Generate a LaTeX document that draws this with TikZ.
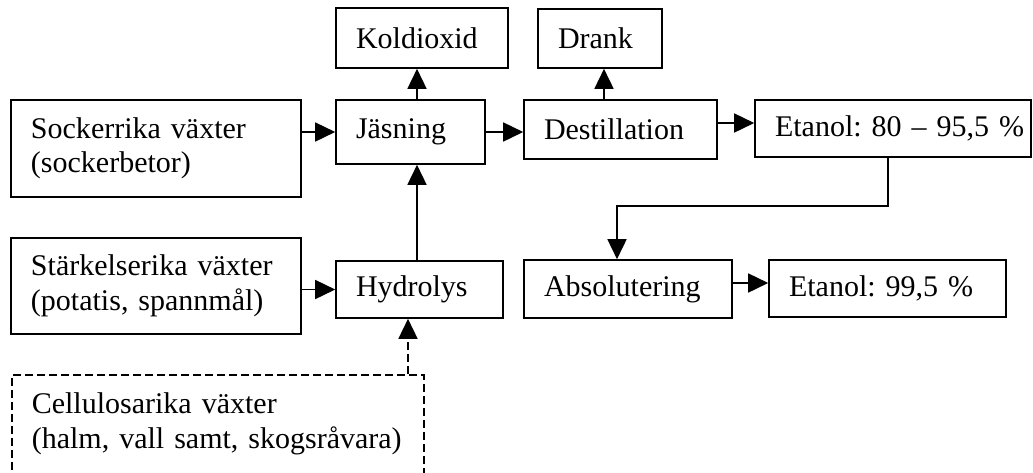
\documentclass[tikz,border=0pt]{standalone}
\usepackage{fontspec}
\setmainfont{Liberation Serif}
\usetikzlibrary{arrows.meta}
\frenchspacing
\begin{document}
\begin{tikzpicture}[x=0.5pt,y=-0.5pt,
  box/.style={draw, line width=0.8pt, inner xsep=10pt, inner ysep=0pt, align=left,
    font=\fontsize{15pt}{17.25pt}\selectfont\frenchspacing, anchor=center},
  dbox/.style={box, dash pattern=on 4pt off 2pt},
  arr/.style={line width=0.8pt, -{Triangle[length=10pt,width=9.5pt]}},
  darr/.style={arr, dash pattern=on 4pt off 2pt},
]
\useasboundingbox (0,0) rectangle (1033,472);
\clip (0,0) rectangle (1033,472);
% boxes
\node[box, minimum height=30pt, text width=66pt] (kol) at (422,38) {Koldioxid};
\node[box, minimum height=29.5pt, text width=42pt] (drank) at (600,38.5) {Drank};
\node[box, minimum height=48.5pt, text width=125pt] (sock) at (156,148.5) {Sockerrika växter\\(sockerbetor)};
\node[box, minimum height=32pt, text width=54.5pt] (jas) at (410.5,132) {Jäsning};
\node[box, minimum height=29.5pt, text width=76.5pt] (dest) at (620.5,129.5) {Destillation};
\node[box, minimum height=28.5pt, text width=118pt] (et1) at (893,128.5) {\mbox{Etanol: 80 – 95,5 \%}};
\node[box, minimum height=48pt, text width=125pt] (stark) at (156,286) {Stärkelserika växter\\(potatis, spannmål)};
\node[box, minimum height=28.5pt, text width=63.5pt] (hyd) at (419.5,289.5) {Hydrolys};
\node[box, minimum height=29pt, text width=84pt] (abs) at (628,289) {Absolutering};
\node[box, minimum height=28.5pt, text width=98.5pt] (et2) at (887.5,288.5) {Etanol: 99,5 \%};
\node[dbox, anchor=north west, inner ysep=9pt, text depth=50pt, text width=186pt] (cell) at (11,374)
  {Cellulosarika växter\\(halm, vall samt, skogsråvara)};
% helper coordinates
\coordinate (xk) at (417,0);
\coordinate (xd) at (604,0);
\coordinate (p1) at (888,206);
\coordinate (p2) at (617,206);
\coordinate (xc) at (408,0);
\coordinate (yd) at (0,123);
\coordinate (ya) at (0,283);
% connectors
\draw[arr] (sock.east |- jas.west) -- (jas.west);
\draw[arr] (jas.north -| xk) -- (kol.south -| xk);
\draw[arr] (hyd.north -| xk) -- (jas.south -| xk);
\draw[arr] (jas.east) -- (dest.west |- jas.east);
\draw[arr] (dest.north -| xd) -- (drank.south -| xd);
\draw[arr] (dest.east |- yd) -- (et1.west |- yd);
\draw[arr] (et1.south -| p1) -- (p1) -- (p2) -- (abs.north -| p2);
\draw[arr] (abs.east |- ya) -- (et2.west |- ya);
\draw[arr] (stark.east |- hyd.west) -- (hyd.west);
\draw[darr] (cell.north -| xc) -- (hyd.south -| xc);
\end{tikzpicture}
\end{document}
